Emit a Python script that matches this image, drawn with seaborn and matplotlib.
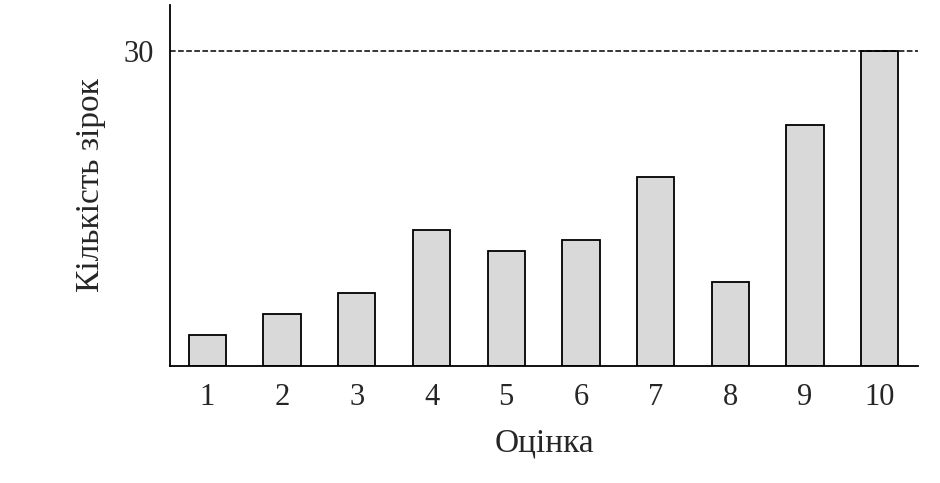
import matplotlib
matplotlib.use("Agg")
import matplotlib.pyplot as plt
import seaborn as sns
import pandas as pd

# дані
ratings = ["1", "2", "3", "4", "5", "6", "7", "8", "9", "10"]
stars = [3, 5, 7, 13, 11, 12, 18, 8, 23, 30]
max_level = 30

sns.set_style("white")
plt.rcParams['font.family'] = ['Liberation Serif', 'DejaVu Serif']

df = pd.DataFrame({"Оцінка": ratings, "Кількість зірок": stars})

fig = plt.figure(figsize=(9.4, 4.83), dpi=100)
ax = fig.add_axes([0.181, 0.242, 0.796, 0.748])
sns.barplot(data=df, x="Оцінка", y="Кількість зірок", color="#d9d9d9",
            edgecolor="black", linewidth=1.3, width=0.5, saturation=1, ax=ax)

ax.axhline(max_level, color="black", linestyle="--", linewidth=1.1)
ax.set_xlim(-0.5, 9.52)
ax.set_ylim(0, 34.4)
ax.set_yticks([max_level])
ax.tick_params(axis="both", length=0, labelsize=22, pad=12)
ax.set_xlabel("Оцінка", fontsize=24, labelpad=12)
ax.set_ylabel("Кількість зірок", fontsize=24, labelpad=12)

for s in ["top", "right"]:
    ax.spines[s].set_visible(False)
for s in ["left", "bottom"]:
    ax.spines[s].set_color("black")
    ax.spines[s].set_linewidth(1.3)

fig.savefig("out.png", dpi=100)
